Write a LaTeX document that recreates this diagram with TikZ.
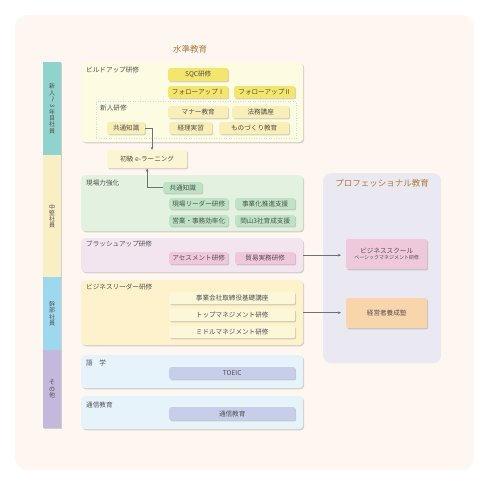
\documentclass[tikz,border=0pt]{standalone}
\usepackage{fontspec}
\usepackage{graphicx}
\setmainfont{Noto Sans CJK JP}
\usetikzlibrary{shadows,arrows.meta,calc}
\definecolor{outerbg}{HTML}{FDF6F1}
\definecolor{txt}{HTML}{505050}
\definecolor{ttl}{HTML}{B07A3C}
\definecolor{arrc}{HTML}{707070}
\definecolor{barA}{HTML}{8FD3CC}
\definecolor{barB}{HTML}{FAEEC4}
\definecolor{barC}{HTML}{9DD8EF}
\definecolor{barD}{HTML}{C4B9DD}
\definecolor{gBuild}{HTML}{FDFBE2}
\definecolor{iSqc}{HTML}{F4E56C}
\definecolor{iMan}{HTML}{F7EEB8}
\definecolor{dotc}{HTML}{BFE2E2}
\definecolor{iEl}{HTML}{FBF5D3}
\definecolor{gGen}{HTML}{E3F2E0}
\definecolor{iGen}{HTML}{BDE3C4}
\definecolor{gBr}{HTML}{F2E5EF}
\definecolor{iBr}{HTML}{F0C7DB}
\definecolor{gLd}{HTML}{FDF2CB}
\definecolor{iLd}{HTML}{FDF7DA}
\definecolor{gGo}{HTML}{E7F3FA}
\definecolor{iGo}{HTML}{C8CEEA}
\definecolor{gPro}{HTML}{EAE8F0}
\definecolor{iBs}{HTML}{EFC8DC}
\definecolor{iKe}{HTML}{F9D5AB}
\tikzset{
  shd/.style={drop shadow={shadow xshift=1pt,shadow yshift=-1.2pt,opacity=0.16,fill=black}},
  grp/.style={rounded corners=4pt,shd,inner sep=0pt},
  itm/.style={rounded corners=2pt,shd,inner sep=0pt,font=\fontsize{6.6}{7}\selectfont,text=txt},
  lbl/.style={anchor=north west,inner sep=0pt,font=\fontsize{6.6}{7}\selectfont,text=txt},
  ttlstyle/.style={inner sep=0pt,font=\fontsize{8.5}{9}\selectfont,text=ttl},
  bar/.style={inner sep=0pt,shd,font=\fontsize{6}{6.3}\selectfont,text=txt,align=center},
  arr/.style={draw=arrc,line width=0.6pt,-{Stealth[length=3.2pt,width=2.6pt]}},
}
\newcommand\mkbox[7]{\node[#2,anchor=north west,minimum width={(#5-#3)*1pt},minimum height={(#6-#4)*1pt}] (#1) at (#3,#4) {#7};}
\newcommand\sidech[1]{\rotatebox[origin=c]{-90}{#1}}
\begin{document}
\begin{tikzpicture}[x=1pt,y=-1pt]
\useasboundingbox (0,0) rectangle (500,486);
\fill[outerbg,rounded corners=12pt] (15,15) rectangle (474,470);
% left bar
\mkbox{barNew}{bar,fill=barA}{43}{62}{61}{155}{新\\人\\\sidech{～}\\\sidech{3}\\年\\目\\社\\員}
\mkbox{barMid}{bar,fill=barB}{43}{155}{61}{277}{中\\堅\\社\\員}
\mkbox{barExe}{bar,fill=barC}{43}{277}{61}{350}{幹\\部\\社\\員}
\mkbox{barOth}{bar,fill=barD}{43}{350}{61}{428}{そ\\の\\他}
% titles
\node[ttlstyle] (t1) at (190,49) {水準教育};
% groups
\mkbox{gbuild}{grp,fill=gBuild}{81}{62}{303}{142}{}
\node[lbl] (lb1) at (86,67) {ビルドアップ研修};
\mkbox{gnew}{draw=dotc,dotted,line width=0.5pt,inner sep=0pt}{96}{101}{296}{138}{}
\node[lbl] (lb2) at (100,105) {新人研修};
\mkbox{sqc}{itm,fill=iSqc}{168}{68}{228}{81}{SQC研修}
\mkbox{fu1}{itm,fill=iSqc}{168}{86}{228}{98}{フォローアップⅠ}
\mkbox{fu2}{itm,fill=iSqc}{234}{86}{295}{98}{フォローアップⅡ}
\mkbox{man}{itm,fill=iMan}{168}{106}{228}{118}{マナー教育}
\mkbox{hom}{itm,fill=iMan}{232}{106}{289}{118}{法務講座}
\mkbox{kyo1}{itm,fill=iMan}{107}{122}{145}{134}{共通知識}
\mkbox{kei}{itm,fill=iMan}{169}{122}{212}{134}{経理実習}
\mkbox{mono}{itm,fill=iMan}{219}{122}{289}{134}{ものづくり教育}
\mkbox{elearn}{itm,fill=iEl}{107}{150}{187}{168}{初級 e-ラーニング}
% genba
\mkbox{ggen}{grp,fill=gGen}{81}{175}{303}{231}{}
\node[lbl] (lb3) at (86,180) {現場力強化};
\mkbox{kyo2}{itm,fill=iGen}{163}{182}{202}{193}{共通知識}
\mkbox{gl}{itm,fill=iGen}{169}{198}{228}{209}{現場リーダー研修}
\mkbox{jg}{itm,fill=iGen}{235}{198}{295}{209}{事業化推進支援}
\mkbox{eg}{itm,fill=iGen}{169}{215}{228}{226}{営業・事務効率化}
\mkbox{ok}{itm,fill=iGen}{235}{215}{295}{226}{岡山3社育成支援}
% brushup
\mkbox{gbr}{grp,fill=gBr}{81}{238}{303}{272}{}
\node[lbl] (lb4) at (86,241) {ブラッシュアップ研修};
\mkbox{as}{itm,fill=iBr}{169}{252}{228}{264}{アセスメント研修}
\mkbox{bo}{itm,fill=iBr}{235}{252}{295}{264}{貿易実務研修}
% leader
\mkbox{gld}{grp,fill=gLd}{81}{280}{303}{345}{}
\node[lbl] (lb5) at (86,284) {ビジネスリーダー研修};
\mkbox{tor}{itm,fill=iLd}{169}{292}{295}{304}{事業会社取締役基礎講座}
\mkbox{top}{itm,fill=iLd}{169}{309}{295}{321}{トップマネジメント研修}
\mkbox{mid}{itm,fill=iLd}{169}{326}{295}{338}{ミドルマネジメント研修}
% gogaku
\mkbox{ggo}{grp,fill=gGo}{81}{355}{303}{388}{}
\node[lbl] (lb6) at (86,360) {語　学};
\mkbox{toeic}{itm,fill=iGo}{169}{367}{295}{379}{TOEIC}
\mkbox{gts}{grp,fill=gGo}{81}{396}{303}{429}{}
\node[lbl] (lb7) at (86,402) {通信教育};
\mkbox{ts}{itm,fill=iGo}{169}{407}{295}{420}{通信教育}
% professional
\mkbox{gpro}{fill=gPro,rounded corners=8pt,inner sep=0pt}{323}{173}{441}{363}{}
\node[ttlstyle] (t2) at (382,183) {プロフェッショナル教育};
\mkbox{bs}{itm,fill=iBs,align=center}{346}{239}{427}{269}{ビジネススクール\\[-1pt]{\fontsize{5}{6}\selectfont ベーシックマネジメント研修}}
\mkbox{ke}{itm,fill=iKe}{346}{298}{427}{328}{経営者養成塾}
% arrows
\draw[arr] (kyo1.east) -| ($(elearn.north west)+(45,0)$);
\draw[arr] (kyo2.west) -| (elearn.south);
\draw[arr,shorten >=5pt] (gbr.east) -- (gbr.east -| bs.west);
\draw[arr,shorten >=5pt] (gld.east) -- (gld.east -| ke.west);
\end{tikzpicture}
\end{document}
